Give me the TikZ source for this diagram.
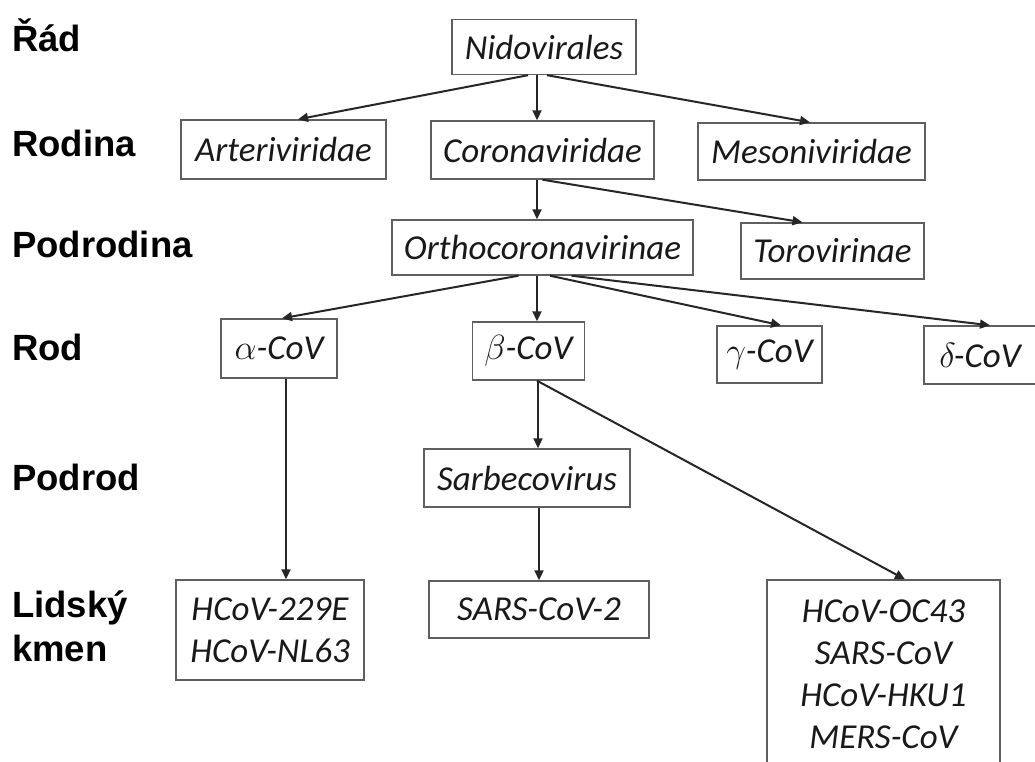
\RequirePackage{fix-cm}
\documentclass[tikz,border=0pt]{standalone}
\usepackage{fontspec}
\newfontfamily\carlito{Carlito}
\newfontfamily\liberation{Liberation Sans}
\usetikzlibrary{arrows.meta}
\definecolor{boxgray}{RGB}{95,95,95}
\definecolor{txtgray}{RGB}{25,25,25}

\begin{document}
\begin{tikzpicture}[
  x=1pt,y=-1pt,
  taxbox/.style={draw=boxgray,line width=1.4pt,inner sep=0pt,align=center,
                 text=txtgray,font=\carlito\itshape\fontsize{35}{42}\selectfont},
  ranklabel/.style={anchor=base west,inner sep=0pt,text=black,
                    font=\liberation\bfseries\fontsize{36.5}{44}\selectfont},
  link/.style={-{Triangle[length=10pt,width=9pt]},line width=2pt,draw=black!85},
]
  \fill[white] (0,0) rectangle (1035,762);
  \clip (0,0) rectangle (1035,762);

  % Rank labels on the left
  \node[ranklabel] (rad) at (12,52) {Řád};
  \node[ranklabel] (rodina) at (12,157) {Rodina};
  \node[ranklabel] (podrodina) at (12,257) {Podrodina};
  \node[ranklabel] (rod) at (12,360) {Rod};
  \node[ranklabel] (podrod) at (12,490) {Podrod};
  \node[ranklabel,align=left,anchor=north west] (kmen) at (12,591) {Lidský\\kmen};

  % Order and families
  \node[taxbox,minimum width=184pt,minimum height=55pt] (nido) at (544,47) {Nidovirales};
  \node[taxbox,minimum width=205pt,minimum height=59pt] (arter) at (283.5,149.5) {Arteriviridae};
  \node[taxbox,minimum width=223pt,minimum height=58pt] (corona) at (542.5,150) {Coronaviridae};
  \node[taxbox,minimum width=227pt,minimum height=57pt] (meso) at (811.5,151.5) {Mesoniviridae};

  % Subfamilies
  \node[taxbox,minimum width=301pt,minimum height=55pt] (ortho) at (542.5,247.5) {Orthocoronavirinae};
  \node[taxbox,minimum width=183pt,minimum height=56pt] (toro) at (832.5,251) {Torovirinae};

  % Genera
  \node[taxbox,minimum width=116pt,minimum height=59pt] (alpha) at (279,348.5) {$\alpha$-CoV};
  \node[taxbox,minimum width=112pt,minimum height=58pt] (beta) at (528.5,351) {$\beta$-CoV};
  \node[taxbox,minimum width=105pt,minimum height=57pt] (gamma) at (769.5,354.5) {$\gamma$-CoV};
  \node[taxbox,minimum width=152pt,minimum height=58pt] (delta) at (1000,355) {\hspace*{-40pt}$\delta$\kern-2pt-CoV};

  % Subgenus
  \node[taxbox,minimum width=206pt,minimum height=58pt] (sarbe) at (527,478) {Sarbecovirus};

  % Human strains
  \node[taxbox,minimum width=188pt,minimum height=100pt] (hcovA) at (270,630) {HCoV-229E\\HCoV-NL63};
  \node[taxbox,minimum width=220pt,minimum height=57pt] (sarsB) at (539,609.5) {SARS-CoV-2};
  \node[taxbox,minimum width=233pt,minimum height=188pt] (hcovC) at (883.5,674) {HCoV-OC43\\SARS-CoV\\HCoV-HKU1\\MERS-CoV};

  % Connectors
  \draw[link] ([xshift=-16pt]nido.south) -- ([xshift=14.5pt]arter.north);
  \draw[link] ([xshift=-7pt]nido.south) -- ([xshift=-5.5pt]corona.north);
  \draw[link] ([xshift=3pt]nido.south) -- ([xshift=-1.5pt]meso.north);
  \draw[link] ([xshift=-5.5pt]corona.south) -- ([xshift=-5.5pt]ortho.north);
  \draw[link] (corona.south) -- ([xshift=-30pt]toro.north);
  \draw[link] ([xshift=-24pt]ortho.south) -- ([xshift=3pt]alpha.north);
  \draw[link] ([xshift=-5.5pt]ortho.south) -- ([xshift=8.5pt]beta.north);
  \draw[link] ([xshift=7.5pt]ortho.south) -- ([xshift=11.5pt]gamma.north);
  \draw[link] ([xshift=29pt]ortho.south) -- ([xshift=-10pt]delta.north);
  \draw[link] ([xshift=7pt]alpha.south) -- ([xshift=16pt]hcovA.north);
  \draw[link] ([xshift=9.5pt]beta.south) -- ([xshift=11pt]sarbe.north);
  \draw[link] ([xshift=8.5pt]beta.south) -- ([xshift=21.5pt]hcovC.north);
  \draw[link] ([xshift=12pt]sarbe.south) -- (sarsB.north);
\end{tikzpicture}
\end{document}
